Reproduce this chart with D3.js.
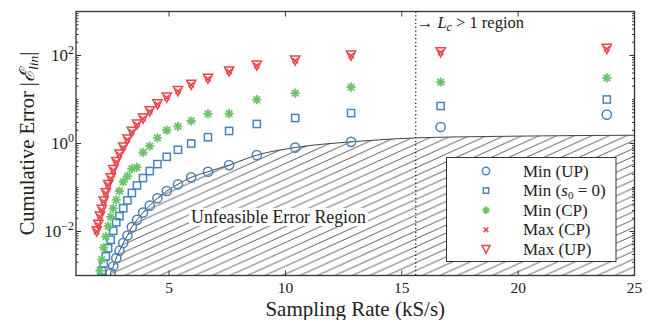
<!DOCTYPE html>
<html>
<head>
<meta charset="utf-8">
<script src="https://cdnjs.cloudflare.com/ajax/libs/d3/7.8.5/d3.min.js"></script>
<style>
body { margin: 0; background: #fff; }
text { font-family: "Liberation Serif", "DejaVu Serif", serif; fill: #222; }
</style>
</head>
<body>
<script>
// sampling rates (kS/s) of the measured points, fastest first
const rates = [23.81, 16.67, 12.82, 10.42, 8.77, 7.58, 6.67, 5.95, 5.38, 4.90, 4.50, 4.17, 3.88, 3.62,
	3.40, 3.21, 3.03, 2.87, 2.73, 2.60, 2.49, 2.38, 2.28, 2.19, 2.11, 2.03, 1.96, 1.89];

// cumulative error per series (shorter series drop below the axis)
const minUP = [4.53, 2.37, 1.09, 0.81, 0.544, 0.323, 0.228, 0.170, 0.118, 0.0833, 0.057, 0.0387, 0.0269,
	0.0184, 0.0126, 0.00812, 0.00547, 0.00366, 0.0025, 0.00162, 0.00115];
const minS0 = [10.0, 7.1, 4.92, 3.80, 2.78, 1.93, 1.39, 1.0, 0.72, 0.498, 0.340, 0.236, 0.164, 0.111,
	0.0751, 0.0508, 0.0338, 0.0223, 0.0162, 0.0104, 0.00649, 0.00417, 0.00272, 0.00186, 0.00129];
const minCP = [31, 24.8, 19.1, 14.0, 9.9, 4.8, 4.7, 3.25, 2.46, 2.0, 1.34, 0.87, 0.625, 0.286, 0.269,
	0.182, 0.135, 0.0833, 0.0524, 0.0336, 0.0216, 0.0132, 0.00762, 0.0043, 0.0023, 0.00129];
const maxCP = [141, 118, 99.5, 76.7, 59, 43.2, 29.6, 21.6, 15.5, 11.0, 7.75, 5.38, 3.68, 2.69, 1.83,
	1.23, 0.81, 0.56, 0.38, 0.249, 0.161, 0.114, 0.074, 0.048, 0.031, 0.0218, 0.0142, 0.0100];
const maxUP = [141, 118, 99.5, 76.7, 59, 43.2, 29.6, 21.6, 15.5, 11.0, 7.75, 5.38, 3.68, 2.69, 1.83,
	1.23, 0.81, 0.56, 0.38, 0.249, 0.161, 0.114, 0.074, 0.048, 0.031, 0.0218, 0.0142, 0.0100];

// lower bound of the error (edge of the hatched region)
const boundRate = [2.45, 2.49, 2.60, 2.73, 2.87, 3.03, 3.21, 3.40, 3.62, 3.88, 4.17, 4.50, 4.90, 5.38,
	5.95, 6.67, 7.58, 8.77, 10.42, 12.82, 14.0, 15.6, 17.0, 19.0, 21.0, 23.0, 25.0];
const boundErr = [0.0009, 0.00115, 0.00162, 0.0025, 0.00366, 0.00547, 0.00812, 0.0126, 0.0184, 0.0269,
	0.0387, 0.057, 0.0833, 0.118, 0.170, 0.228, 0.323, 0.544, 0.81, 1.09, 1.21, 1.34, 1.40, 1.45, 1.49, 1.52, 1.54];

const xTicks = [5, 10, 15, 20, 25];
const yTickExp = [-2, 0, 2];
const lcRate = 15.6; // L_c > 1 boundary

const legendNames = ["Min (UP)", "Min (s0 = 0)", "Min (CP)", "Max (CP)", "Max (UP)"];

var width = 653, height = 320;
var pLeft = 76, pRight = 634.5, pTop = 11.5, pBottom = 275.5;

var blue = "#4b83b8", green = "#6cc46b", red = "#e8454a";

var svg = d3.select("body").append("svg")
	.attr("width", width)
	.attr("height", height);

var x = d3.scaleLinear().domain([1, 25]).range([pLeft, pRight]);
var y = d3.scaleLog().domain([1e-3, 1e3]).range([pBottom, pTop]);

var defs = svg.append("defs");
defs.append("clipPath").attr("id", "plot")
	.append("rect")
	.attr("x", pLeft).attr("y", pTop)
	.attr("width", pRight - pLeft).attr("height", pBottom - pTop);

// diagonal hatch
var hatch = defs.append("pattern")
	.attr("id", "hatch")
	.attr("patternUnits", "userSpaceOnUse")
	.attr("width", 17.5)
	.attr("height", 7.9);
hatch.append("path")
	.attr("d", "M0,7.9L17.5,0M-17.5,7.9L17.5,-7.9M0,15.8L35,0")
	.attr("stroke", "#3a3a3a")
	.attr("stroke-width", 0.8);

var plot = svg.append("g").attr("clip-path", "url(#plot)");

// hatched unfeasible region
var bound = d3.zip(boundRate, boundErr);
var area = d3.area()
	.x(d => x(d[0]))
	.y0(pBottom + 2)
	.y1(d => y(d[1]))
	.curve(d3.curveMonotoneX);
plot.append("path")
	.datum(bound)
	.attr("d", area)
	.attr("fill", "url(#hatch)");
plot.append("path")
	.datum(bound)
	.attr("d", d3.line().x(d => x(d[0])).y(d => y(d[1])).curve(d3.curveMonotoneX))
	.attr("fill", "none")
	.attr("stroke", "#444")
	.attr("stroke-width", 1);

// label inside region, with white box behind
var regLabel = svg.append("g");
var regText = regLabel.append("text")
	.attr("x", x(9.7))
	.attr("y", 223)
	.attr("text-anchor", "middle")
	.style("font-size", "17.8px")
	.text("Unfeasible Error Region");
var bb = regText.node().getBBox();
regLabel.insert("rect", "text")
	.attr("x", bb.x - 2).attr("y", bb.y + 1)
	.attr("width", bb.width + 4).attr("height", bb.height - 2)
	.attr("fill", "#fff");

// dotted L_c line
plot.append("line")
	.attr("x1", x(lcRate)).attr("x2", x(lcRate))
	.attr("y1", pTop).attr("y2", pBottom)
	.attr("stroke", "#111")
	.attr("stroke-width", 1.2)
	.attr("stroke-dasharray", "1.2,2.6");

var lcText = svg.append("text")
	.attr("x", x(lcRate) + 1)
	.attr("y", 28)
	.style("font-size", "16.5px");
lcText.append("tspan").text("\u2192 ");
lcText.append("tspan").style("font-style", "italic").text("L");
lcText.append("tspan").style("font-style", "italic").style("font-size", "12px").attr("dy", 3).text("c");
lcText.append("tspan").attr("dy", -3).text(" > 1 region");

// marker shapes, s = scale
function marker(g, kind, cx, cy, s) {
	if (kind == "circle") {
		g.append("circle")
			.attr("cx", cx).attr("cy", cy).attr("r", 4.6 * s)
			.attr("fill", "none").attr("stroke", blue).attr("stroke-width", 1.5);
	}
	else if (kind == "square") {
		g.append("rect")
			.attr("x", cx - 3.6 * s).attr("y", cy - 3.6 * s)
			.attr("width", 7.2 * s).attr("height", 7.2 * s)
			.attr("fill", "none").attr("stroke", blue).attr("stroke-width", 1.5);
	}
	else if (kind == "star") {
		var r = 4.6 * s, q = r * 0.707;
		g.append("path")
			.attr("d", `M${cx - r},${cy}L${cx + r},${cy}M${cx},${cy - r}L${cx},${cy + r}` +
				`M${cx - q},${cy - q}L${cx + q},${cy + q}M${cx - q},${cy + q}L${cx + q},${cy - q}`)
			.attr("stroke", green).attr("stroke-width", 1.8);
		g.append("circle")
			.attr("cx", cx).attr("cy", cy).attr("r", 1.6 * s)
			.attr("fill", green);
	}
	else if (kind == "cross") {
		var c = 2.6 * s;
		g.append("path")
			.attr("d", `M${cx - c},${cy - c}L${cx + c},${cy + c}M${cx - c},${cy + c}L${cx + c},${cy - c}`)
			.attr("stroke", red).attr("stroke-width", 1.5);
	}
	else if (kind == "tri") {
		var h = 4.6 * s;
		g.append("path")
			.attr("d", `M${cx},${cy + h}L${cx - h},${cy - h}L${cx + h},${cy - h}Z`)
			.attr("fill", "none").attr("stroke", red).attr("stroke-width", 1.5)
			.attr("stroke-linejoin", "miter");
	}
}

var series = [
	{ vals: minUP, kind: "circle" },
	{ vals: minS0, kind: "square" },
	{ vals: minCP, kind: "star" },
	{ vals: maxCP, kind: "cross" },
	{ vals: maxUP, kind: "tri" }
];

var marks = svg.append("g").attr("clip-path", "url(#plot)");
series.forEach(function(s) {
	var pts = d3.zip(rates, s.vals);
	var g = marks.append("g");
	pts.forEach(function(p) {
		marker(g, s.kind, x(p[0]), y(p[1]), 1);
	});
});

// axes frame
svg.append("rect")
	.attr("x", pLeft).attr("y", pTop)
	.attr("width", pRight - pLeft).attr("height", pBottom - pTop)
	.attr("fill", "none")
	.attr("stroke", "#333")
	.attr("stroke-width", 1.3);

// x ticks, inward on bottom and top
var ticks = svg.append("g").attr("stroke", "#333").attr("stroke-width", 1);
xTicks.forEach(function(t) {
	ticks.append("line").attr("x1", x(t)).attr("x2", x(t)).attr("y1", pBottom).attr("y2", pBottom - 5);
	ticks.append("line").attr("x1", x(t)).attr("x2", x(t)).attr("y1", pTop).attr("y2", pTop + 5);
	svg.append("text")
		.attr("x", x(t)).attr("y", 292.5)
		.attr("text-anchor", "middle")
		.style("font-size", "15.5px")
		.text(t);
});

// y ticks: majors at even decades, minors everywhere else
for (let e = -3; e < 3; e++) {
	for (let m = 1; m < 10; m++) {
		let v = m * Math.pow(10, e);
		let len = (m == 1 && e % 2 == 0) ? 5 : 2.5;
		ticks.append("line").attr("x1", pLeft).attr("x2", pLeft + len).attr("y1", y(v)).attr("y2", y(v));
		ticks.append("line").attr("x1", pRight).attr("x2", pRight - len).attr("y1", y(v)).attr("y2", y(v));
	}
}

yTickExp.forEach(function(e) {
	var t = svg.append("text")
		.attr("x", 74).attr("y", y(Math.pow(10, e)) + 5.5)
		.attr("text-anchor", "end")
		.style("font-size", "17px");
	t.append("tspan").text("10");
	t.append("tspan").attr("dy", -7.5).style("font-size", "12px").text(e < 0 ? "\u2212" + (-e) : e);
});

// axis titles
svg.append("text")
	.attr("x", (pLeft + pRight) / 2).attr("y", 315.5)
	.attr("text-anchor", "middle")
	.style("font-size", "21px")
	.text("Sampling Rate (kS/s)");

var yl = svg.append("text")
	.attr("transform", `translate(34,${(pTop + pBottom) / 2}) rotate(-90)`)
	.attr("text-anchor", "middle")
	.style("font-size", "20.5px");
yl.append("tspan").text("Cumulative Error |");
yl.append("tspan").style("font-family", "DejaVu Serif").style("font-style", "italic").text("\u2130");
yl.append("tspan").attr("dy", 4).style("font-size", "13.5px").style("font-style", "italic").text("lin");
yl.append("tspan").attr("dy", -4).text("|");

// legend
var lg = svg.append("g");
lg.append("rect")
	.attr("x", 446.5).attr("y", 157.5)
	.attr("width", 169.5).attr("height", 104)
	.attr("fill", "#fff")
	.attr("stroke", "#333")
	.attr("stroke-width", 1);
var kinds = ["circle", "square", "star", "cross", "tri"];
var legendScale = [0.8, 0.75, 0.8, 0.9, 0.85];
legendNames.forEach(function(name, i) {
	var cy = 171 + i * 19.6;
	marker(lg, kinds[i], 486, cy, legendScale[i]);
	var t = lg.append("text")
		.attr("x", 523).attr("y", cy + 5.5)
		.style("font-size", "17px");
	if (i == 1) {
		t.append("tspan").text("Min (");
		t.append("tspan").style("font-style", "italic").text("s");
		t.append("tspan").attr("dy", 3).style("font-size", "11px").text("0");
		t.append("tspan").attr("dy", -3).text(" = 0)");
	}
	else {
		t.text(name);
	}
});
</script>
</body>
</html>
